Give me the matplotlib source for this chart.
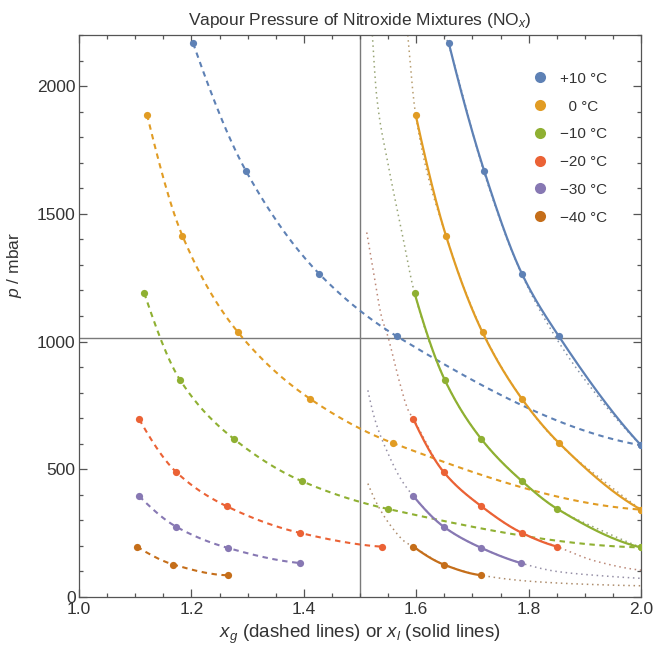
import numpy as np
import matplotlib
matplotlib.use("Agg")
import matplotlib.pyplot as plt
from matplotlib.lines import Line2D
from matplotlib.ticker import MultipleLocator
from matplotlib.colors import to_rgb

plt.rcParams['font.family'] = ['Liberation Sans', 'DejaVu Sans']
plt.rcParams['mathtext.fontset'] = 'custom'
plt.rcParams['mathtext.it'] = 'Liberation Sans:italic'
plt.rcParams['mathtext.rm'] = 'Liberation Sans'

# ---------------- data ----------------
labels = ["+10 °C", "\u20070 °C", "\u221210 °C", "\u221220 °C", "\u221230 °C", "\u221240 °C"]
colors = ["#5E81B5", "#E19C24", "#8FB032", "#EB6235", "#8778B3", "#C56E1A"]

# gas phase composition (dashed) and pressures
xg_p10 = [1.203, 1.297, 1.427, 1.566, 2.0]
xg_0 = [1.121, 1.184, 1.283, 1.411, 1.558, 2.0]
xg_m10 = [1.116, 1.180, 1.276, 1.396, 1.549, 2.0]
xg_m20 = [1.107, 1.173, 1.263, 1.393, 1.539]
xg_m30 = [1.107, 1.173, 1.265, 1.393]
xg_m40 = [1.103, 1.168, 1.265]

# liquid phase composition (solid)
xl_p10 = [1.658, 1.721, 1.788, 1.854, 2.0]
xl_0 = [1.599, 1.653, 1.718, 1.788, 1.854, 2.0]
xl_m10 = [1.597, 1.651, 1.716, 1.788, 1.851, 2.0]
xl_m20 = [1.595, 1.649, 1.716, 1.788, 1.851]
xl_m30 = [1.595, 1.649, 1.716, 1.786]
xl_m40 = [1.595, 1.649, 1.716]

# pressures (mbar), shared by gas and liquid points
p_p10 = [2168, 1668, 1266, 1020, 594]
p_0 = [1888, 1414, 1036, 776, 603, 342]
p_m10 = [1190, 849, 618, 454, 345, 194]
p_m20 = [696, 489, 355, 251, 197]
p_m30 = [395, 275, 192, 133]
p_m40 = [197, 127, 85]

# fitted liquid curves (dotted)
fx_p10 = [1.652, 1.658, 1.721, 1.786, 1.850, 1.915, 2.0]
fp_p10 = [2200, 2160, 1660, 1272, 1010, 808, 594]
fx_0 = [1.585, 1.599, 1.653, 1.720, 1.790, 1.854, 1.930, 2.0]
fp_0 = [2200, 1888, 1414, 1030, 770, 600, 460, 342]
fx_m10 = [1.522, 1.530, 1.550, 1.574, 1.597, 1.651, 1.716, 1.788, 1.851, 1.930, 2.0]
fp_m10 = [2200, 1954, 1694, 1434, 1190, 849, 618, 454, 345, 260, 194]
fx_m20 = [1.512, 1.525, 1.538, 1.550, 1.568, 1.586, 1.595, 1.649, 1.716, 1.788, 1.851, 1.920, 2.0]
fp_m20 = [1427, 1260, 1100, 1017, 860, 730, 697, 489, 355, 251, 197, 140, 105]
fx_m30 = [1.514, 1.527, 1.550, 1.574, 1.595, 1.649, 1.716, 1.786, 1.850, 1.930, 2.0]
fp_m30 = [809, 691, 561, 457, 395, 275, 192, 133, 100, 83, 73]
fx_m40 = [1.514, 1.533, 1.556, 1.580, 1.595, 1.649, 1.716, 1.800, 1.900, 2.0]
fp_m40 = [444, 353, 275, 216, 197, 127, 85, 62, 50, 44]

p_atm = 1013
x_split = 1.5

gas_x = [xg_p10, xg_0, xg_m10, xg_m20, xg_m30, xg_m40]
liq_x = [xl_p10, xl_0, xl_m10, xl_m20, xl_m30, xl_m40]
pres = [p_p10, p_0, p_m10, p_m20, p_m30, p_m40]
fit_x = [fx_p10, fx_0, fx_m10, fx_m20, fx_m30, fx_m40]
fit_p = [fp_p10, fp_0, fp_m10, fp_m20, fp_m30, fp_m40]


def pchip(x, y, n=200):
    """Monotone cubic rendering of a line through the given points."""
    x = np.asarray(x, float); y = np.asarray(y, float)
    h = np.diff(x); d = np.diff(y) / h
    m = np.zeros_like(y)
    for k in range(1, len(x) - 1):
        if d[k - 1] * d[k] > 0:
            w1 = 2 * h[k] + h[k - 1]; w2 = h[k] + 2 * h[k - 1]
            m[k] = (w1 + w2) / (w1 / d[k - 1] + w2 / d[k])
    m[0] = d[0]; m[-1] = d[-1]
    if len(x) > 2:
        m[0] = ((2 * h[0] + h[1]) * d[0] - h[0] * d[1]) / (h[0] + h[1])
        if np.sign(m[0]) != np.sign(d[0]): m[0] = 0
        m[-1] = ((2 * h[-1] + h[-2]) * d[-1] - h[-1] * d[-2]) / (h[-1] + h[-2])
        if np.sign(m[-1]) != np.sign(d[-1]): m[-1] = 0
    xs = np.linspace(x[0], x[-1], n)
    idx = np.clip(np.searchsorted(x, xs) - 1, 0, len(x) - 2)
    t = (xs - x[idx]) / h[idx]
    h00 = 2 * t**3 - 3 * t**2 + 1; h10 = t**3 - 2 * t**2 + t
    h01 = -2 * t**3 + 3 * t**2; h11 = t**3 - t**2
    ys = h00 * y[idx] + h10 * h[idx] * m[idx] + h01 * y[idx + 1] + h11 * h[idx] * m[idx + 1]
    return xs, ys


def muted(c, f=0.55, g=0.5):
    r = np.array(to_rgb(c))
    return tuple((1 - f) * r + f * g)


fig = plt.figure(figsize=(6.56, 6.51), dpi=100)
ax = fig.add_axes([79 / 656, 54 / 651, 562 / 656, 562 / 651])

ax.axvline(x_split, color="#7a7a7a", lw=1.0, zorder=1)
ax.axhline(p_atm, color="#7a7a7a", lw=1.0, zorder=1)

for c, gx, lx, p, fx, fp in zip(colors, gas_x, liq_x, pres, fit_x, fit_p):
    # fitted curve (dotted)
    sx, sy = pchip(fx, fp, 400)
    ax.plot(sx, sy, color=muted(c), lw=1.1, ls=(0, (1, 2.4)), alpha=0.85, zorder=2)
    # gas phase (dashed)
    sx, sy = pchip(gx, p)
    ax.plot(sx, sy, color=c, lw=1.5, dashes=(2.6, 2.2), zorder=3)
    ax.plot(gx, p, 'o', color=c, ms=5.2, mec='none', zorder=4)
    # liquid phase (solid)
    sx, sy = pchip(lx, p)
    ax.plot(sx, sy, color=c, lw=1.6, zorder=3)
    ax.plot(lx, p, 'o', color=c, ms=5.2, mec='none', zorder=4)

ax.set_xlim(1.0, 2.0)
ax.set_ylim(0, 2200)
ax.xaxis.set_major_locator(MultipleLocator(0.2))
ax.xaxis.set_minor_locator(MultipleLocator(0.05))
ax.yaxis.set_major_locator(MultipleLocator(500))
ax.yaxis.set_minor_locator(MultipleLocator(100))
ax.xaxis.set_major_formatter(matplotlib.ticker.FormatStrFormatter('%.1f'))
ax.tick_params(which='both', direction='in', top=True, right=True, colors='#555555',
               labelcolor='#333333', labelsize=12.5, width=0.9)
ax.tick_params(which='major', length=5.5, pad=3.5)
ax.tick_params(axis='y', which='major', pad=2.5)
ax.tick_params(which='minor', length=3)
for s in ax.spines.values():
    s.set_color('#555555'); s.set_linewidth(0.9)

ax.set_title("Vapour Pressure of Nitroxide Mixtures (NO$_x$)", fontsize=12.5, color='#333333', pad=7)
ax.set_xlabel("$x_g$ (dashed lines) or $x_l$ (solid lines)", fontsize=13.5, color='#333333', labelpad=4)
ax.set_ylabel("$p$ / mbar", fontsize=12.5, color='#333333')
ax.yaxis.set_label_coords(-0.097, 0.59)

handles = [Line2D([], [], marker='o', ls='none', color=c, ms=8, mec='none') for c in colors]
leg = ax.legend(handles, labels, loc='upper right', bbox_to_anchor=(0.965, 0.959), frameon=False,
                fontsize=11, labelspacing=0.9, handletextpad=0.85, handlelength=1.0)
for t in leg.get_texts():
    t.set_color('#333333')

fig.savefig("out.png", dpi=100)
